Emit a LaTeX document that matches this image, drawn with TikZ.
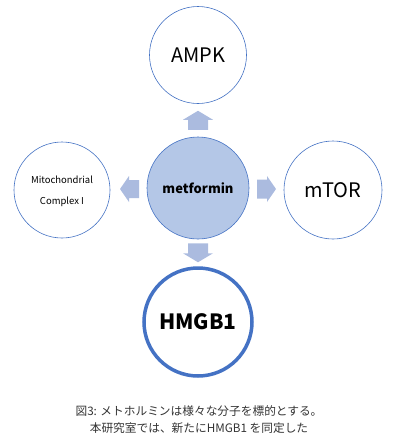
\documentclass[tikz,border=0pt]{standalone}
\usepackage{fontspec}
\setmainfont{Noto Sans CJK JP}
\usetikzlibrary{calc}
\definecolor{cborder}{HTML}{4472C4}
\definecolor{cfill}{HTML}{B4C7E7}
\definecolor{carrow}{HTML}{ABBBDF}
\definecolor{ctext}{HTML}{333333}
\tikzset{
  circ/.style={circle, draw=cborder, line width=0.6pt, fill=white, inner sep=0pt},
  barrow/.style={fill=carrow, draw=none},
  pics/blockarrow/.style 2 args={code={
    \fill[barrow] (-9.5,-#2) -- (0.5,-#2) -- (0.5,-#1) -- (9.5,0) -- (0.5,#1) -- (0.5,#2) -- (-9.5,#2) -- cycle;
  }},
}
\begin{document}
\begin{tikzpicture}[x=1pt,y=-1pt]
\useasboundingbox (0,0) rectangle (400,440);
\node[circ, minimum size=97pt] (ampk) at (198,55) {\fontsize{20}{24}\selectfont AMPK};
\node[circ, minimum size=102pt, fill=cfill] (met) at (198,188) {\fontsize{13}{16}\selectfont\bfseries metformin};
\node[circ, minimum size=96pt] (mito) at (62,190) {\fontsize{9.5}{20}\selectfont\begin{tabular}{@{}c@{}}Mitochondrial\\[1pt] Complex I\end{tabular}};
\node[circ, minimum size=98pt] (mtor) at (333,190) {\fontsize{20}{24}\selectfont mTOR};
\node[circ, minimum size=108pt, line width=3.5pt] (hmgb) at (198,322) {\fontsize{21}{25}\selectfont\bfseries HMGB1};
\coordinate (cup) at ($(ampk.south)!0.5!(met.north)$);
\coordinate (cdown) at ($(met.south)!0.5!(hmgb.north)$);
\coordinate (cleft) at ($(mito.east)!0.5!(met.west)+(1,0)$);
\coordinate (cright) at ($(met.east)!0.5!(mtor.west)$);
\pic[rotate=90] at (cup) {blockarrow={15}{10}};
\pic[rotate=270] at (cdown) {blockarrow={15}{10}};
\pic[rotate=180] at (cleft) {blockarrow={13}{9}};
\pic at (cright) {blockarrow={13}{9.5}};
\node[text=ctext, align=center, font=\fontsize{11.7}{16.5}\selectfont] (cap) at (199,419.5) {図3: メトホルミンは様々な分子を標的とする。\\本研究室では、新たにHMGB1\ を同定した};
\end{tikzpicture}
\end{document}
